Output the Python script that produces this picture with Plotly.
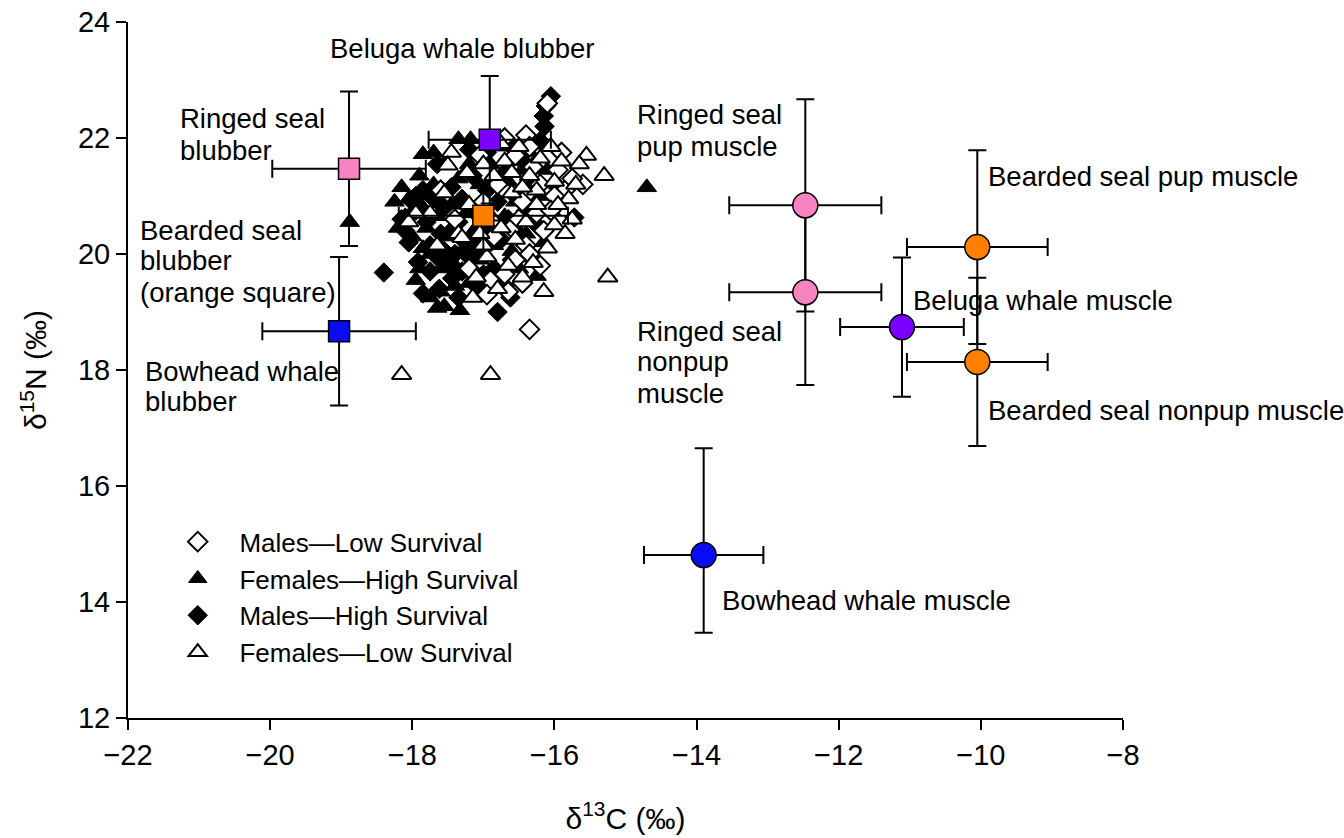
import plotly.graph_objects as go

# ---------------- data ----------------
# Individual animals (delta13C, delta15N)
mls_x = [-16.35, -16.40, -15.60, -15.85, -16.10, -16.70, -16.55, -16.30, -16.20, -16.00, -16.45, -16.25,
         -16.60, -16.15, -16.40, -16.55, -16.20, -16.70, -16.45, -16.90, -16.85, -16.80, -17.05, -17.00,
         -17.20, -16.95, -16.65, -15.75, -15.95, -16.35, -17.40, -17.60, -16.05, -16.50, -15.90, -16.35]
mls_y = [18.70, 22.05, 21.20, 21.10, 22.60, 22.00, 21.70, 21.50, 21.20, 21.00, 20.90, 20.70,
         20.45, 20.40, 20.15, 19.90, 19.80, 19.65, 19.50, 19.55, 20.30, 21.20, 21.70, 20.90,
         19.75, 19.30, 19.35, 21.30, 21.45, 20.00, 20.60, 21.10, 20.75, 20.60, 21.75, 21.85]

fhs_x = [-14.70, -18.88, -17.85, -17.35, -17.18, -17.65, -17.33, -16.25, -18.15, -18.05, -18.10, -18.00,
         -17.90, -17.85, -17.80, -17.75, -17.70, -17.65, -17.60, -17.55, -17.50, -17.45, -17.40, -17.35,
         -17.30, -17.25, -17.20, -17.15, -17.10, -17.05, -17.00, -16.95, -16.90, -16.85, -16.80, -16.75,
         -16.70, -16.65, -16.60, -16.55, -16.50, -16.45, -16.40, -16.35, -16.30, -16.20, -16.15, -16.10,
         -17.95, -17.75, -17.55, -16.05, -15.95, -17.70, -18.20, -17.90, -17.60, -17.40, -17.20, -17.85,
         -18.25, -17.05, -16.90]
fhs_y = [21.15, 20.55, 21.72, 21.98, 21.98, 19.07, 19.03, 19.62, 21.15, 20.95, 20.65, 20.30,
         21.35, 20.80, 20.45, 20.00, 21.20, 20.65, 19.75, 21.55, 20.30, 20.85, 19.45, 21.30,
         20.05, 20.70, 21.55, 19.70, 20.45, 21.20, 19.30, 20.85, 21.55, 20.15, 21.85, 19.55,
         20.65, 21.25, 20.05, 20.90, 19.75, 21.45, 20.35, 21.75, 20.60, 21.00, 20.20, 21.45,
         19.55, 19.25, 19.10, 20.75, 21.20, 21.75, 20.45, 19.75, 19.35, 19.80, 19.50, 20.10,
         20.90, 19.90, 19.60]

mhs_x = [-16.05, -16.12, -16.15, -16.14, -16.20, -18.40, -16.80, -16.62, -15.72, -17.92, -17.85, -17.44,
         -17.62, -17.10, -18.10, -18.05, -17.95, -17.80, -17.70, -17.60, -17.55, -17.45, -17.35, -17.30,
         -17.25, -17.20, -17.15, -17.10, -17.05, -16.95, -16.90, -16.85, -16.80, -16.75, -16.70, -16.65,
         -16.60, -16.55, -16.50, -16.45, -16.40, -16.35, -16.30, -16.25, -17.65, -17.50, -17.40, -17.00,
         -16.95, -17.85, -18.00, -17.75, -17.20, -16.60, -17.35, -16.70, -17.75, -17.55, -17.30, -18.15,
         -17.95, -17.65, -17.45, -17.15]
mhs_y = [22.72, 22.55, 22.38, 22.20, 21.95, 19.68, 19.00, 19.25, 20.63, 19.86, 19.32, 19.58,
         19.40, 19.45, 20.40, 20.20, 20.75, 20.55, 20.95, 20.35, 20.80, 21.15, 20.55, 20.95,
         20.20, 19.95, 21.35, 20.70, 20.10, 21.10, 20.40, 19.75, 20.90, 20.25, 21.40, 20.60,
         19.90, 21.00, 20.35, 21.60, 20.75, 19.95, 21.20, 20.50, 21.55, 19.85, 20.00, 19.65,
         21.75, 21.10, 20.90, 20.15, 21.80, 21.85, 19.25, 19.45, 19.70, 20.05, 19.70, 20.60,
         21.00, 19.95, 20.40, 20.30]

fls_x = [-15.25, -18.15, -16.90, -15.30, -15.55, -15.65, -15.80, -15.90, -16.00, -16.05, -16.10, -16.20,
         -16.25, -16.30, -16.35, -16.40, -16.45, -16.50, -16.55, -16.60, -16.65, -16.70, -16.75, -16.80,
         -16.85, -16.90, -16.95, -17.00, -17.05, -17.10, -17.20, -17.25, -17.35, -17.45, -17.55, -17.65,
         -17.75, -17.95, -18.05, -16.15, -15.85, -16.00, -16.75, -17.15, -15.70, -17.50, -17.23, -17.30,
         -15.95, -16.25, -16.60, -15.75, -16.45, -17.00]
fls_y = [19.60, 17.92, 17.92, 21.35, 21.70, 21.55, 20.95, 21.60, 20.50, 21.85, 20.10, 21.65,
         20.85, 19.85, 21.35, 20.55, 19.60, 21.85, 20.25, 21.05, 19.80, 21.60, 20.45, 19.40,
         21.35, 20.65, 19.95, 21.55, 20.35, 19.60, 20.85, 21.40, 20.35, 21.75, 21.05, 20.15,
         20.70, 20.70, 20.55, 19.35, 20.35, 21.25, 21.90, 19.25, 21.20, 21.53, 21.40, 20.28,
         20.85, 21.10, 21.40, 20.60, 21.15, 20.15]

# Prey means +/- SD: blubber (squares)
blub_names = ["Ringed seal blubber", "Beluga whale blubber", "Bearded seal blubber", "Bowhead whale blubber"]
blub_c = [-18.89, -16.91, -17.00, -19.03]
blub_n = [21.47, 21.97, 20.66, 18.67]
blub_c_sd = [1.08, 0.86, 1.19, 1.08]
blub_n_sd = [1.33, 1.10, 0.60, 1.28]
blub_colors = ["#F784C1", "#7B00FF", "#FF8000", "#0A0AF5"]

# Prey means +/- SD: muscle (circles)
musc_names = ["Ringed seal pup muscle", "Ringed seal nonpup muscle", "Bearded seal pup muscle",
              "Bearded seal nonpup muscle", "Beluga whale muscle", "Bowhead whale muscle"]
musc_c = [-12.47, -12.47, -10.05, -10.05, -11.11, -13.90]
musc_n = [20.84, 19.34, 20.12, 18.14, 18.74, 14.81]
musc_c_sd = [1.07, 1.07, 0.99, 0.99, 0.87, 0.84]
musc_n_sd_plus = [1.83, 1.60, 1.67, 1.45, 1.20, 1.84]
musc_n_sd_minus = [1.83, 1.60, 1.67, 1.45, 1.20, 1.34]
musc_colors = ["#F784C1", "#F784C1", "#FF8000", "#FF8000", "#7B00FF", "#0A0AF5"]

FONT = "Arial, Liberation Sans, sans-serif"
PAD = "\u00a0\u00a0\u00a0"

fig = go.Figure()

# individuals
fig.add_trace(go.Scatter(x=mhs_x, y=mhs_y, mode="markers", name=PAD + "Males\u2014High Survival", legendrank=3,
                         marker=dict(symbol="diamond", size=15, color="black", line=dict(color="black", width=1))))
fig.add_trace(go.Scatter(x=fhs_x, y=fhs_y, mode="markers", name=PAD + "Females\u2014High Survival", legendrank=2,
                         marker=dict(symbol="triangle-up", size=17, color="black", line=dict(color="black", width=1))))
fig.add_trace(go.Scatter(x=mls_x, y=mls_y, mode="markers", name=PAD + "Males\u2014Low Survival", legendrank=1,
                         marker=dict(symbol="diamond", size=15, color="white", line=dict(color="black", width=2))))
fig.add_trace(go.Scatter(x=fls_x, y=fls_y, mode="markers", name=PAD + "Females\u2014Low Survival", legendrank=4,
                         marker=dict(symbol="triangle-up", size=17, color="white", line=dict(color="black", width=2))))

# prey
fig.add_trace(go.Scatter(x=blub_c, y=blub_n, mode="markers", showlegend=False, text=blub_names,
                         error_x=dict(type="data", array=blub_c_sd, color="black", thickness=2, width=9),
                         error_y=dict(type="data", array=blub_n_sd, color="black", thickness=2, width=9),
                         marker=dict(symbol="square", size=21, color=blub_colors, line=dict(color="black", width=1.5))))
fig.add_trace(go.Scatter(x=musc_c, y=musc_n, mode="markers", showlegend=False, text=musc_names,
                         error_x=dict(type="data", array=musc_c_sd, color="black", thickness=2, width=9),
                         error_y=dict(type="data", array=musc_n_sd_plus, arrayminus=musc_n_sd_minus,
                                      color="black", thickness=2, width=9),
                         marker=dict(symbol="circle", size=25, color=musc_colors, line=dict(color="black", width=1.5))))

# labels (one annotation per text line)
labels = [
    ("Beluga whale blubber", -17.30, 23.55, "center"),
    ("Ringed seal", -21.30, 22.34, "left"),
    ("blubber", -21.30, 21.79, "left"),
    ("Bearded seal", -21.86, 20.40, "left"),
    ("blubber", -21.86, 19.88, "left"),
    ("(orange square)", -21.86, 19.34, "left"),
    ("Bowhead whale", -21.79, 17.98, "left"),
    ("blubber", -21.79, 17.45, "left"),
    ("Ringed seal", -14.87, 22.40, "left"),
    ("pup muscle", -14.87, 21.86, "left"),
    ("Bearded seal pup muscle", -9.93, 21.33, "left"),
    ("Beluga whale muscle", -10.98, 19.19, "left"),
    ("Ringed seal", -14.87, 18.67, "left"),
    ("nonpup", -14.87, 18.14, "left"),
    ("muscle", -14.87, 17.60, "left"),
    ("Bearded seal nonpup muscle", -9.93, 17.31, "left"),
    ("Bowhead whale muscle", -13.67, 14.03, "left"),
]
for txt, lx, ly, anc in labels:
    fig.add_annotation(x=lx, y=ly, text=txt, showarrow=False, xanchor=anc, yanchor="middle",
                       font=dict(family=FONT, size=27.5, color="black"))

fig.update_layout(
    width=1344, height=838,
    margin=dict(l=128, r=221, t=22, b=120, autoexpand=False),
    paper_bgcolor="white", plot_bgcolor="white",
    font=dict(family=FONT, size=27, color="black"),
    showlegend=True,
    legend=dict(x=0.05, y=0.287, xanchor="left", yanchor="top", bgcolor="rgba(0,0,0,0)",
                font=dict(family=FONT, size=26, color="black"), itemsizing="trace",
                tracegroupgap=0),
)
fig.update_xaxes(range=[-22, -8], tickvals=[-22, -20, -18, -16, -14, -12, -10, -8], automargin=False,
                 showline=True, linecolor="black", linewidth=2, showgrid=False, zeroline=False,
                 ticks="outside", ticklen=10, tickwidth=2, tickcolor="black",
                 tickfont=dict(family=FONT, size=29),
                 title=dict(text="\u03b4<sup>13</sup>C (\u2030)", font=dict(family=FONT, size=30), standoff=38))
fig.update_yaxes(range=[12, 24], tickvals=[12, 14, 16, 18, 20, 22, 24], automargin=False,
                 showline=True, linecolor="black", linewidth=2, showgrid=False, zeroline=False,
                 ticks="outside", ticklen=10, tickwidth=2, tickcolor="black",
                 tickfont=dict(family=FONT, size=29),
                 title=dict(text="\u03b4<sup>15</sup>N (\u2030)", font=dict(family=FONT, size=30), standoff=22))

fig.write_html("out.html")
